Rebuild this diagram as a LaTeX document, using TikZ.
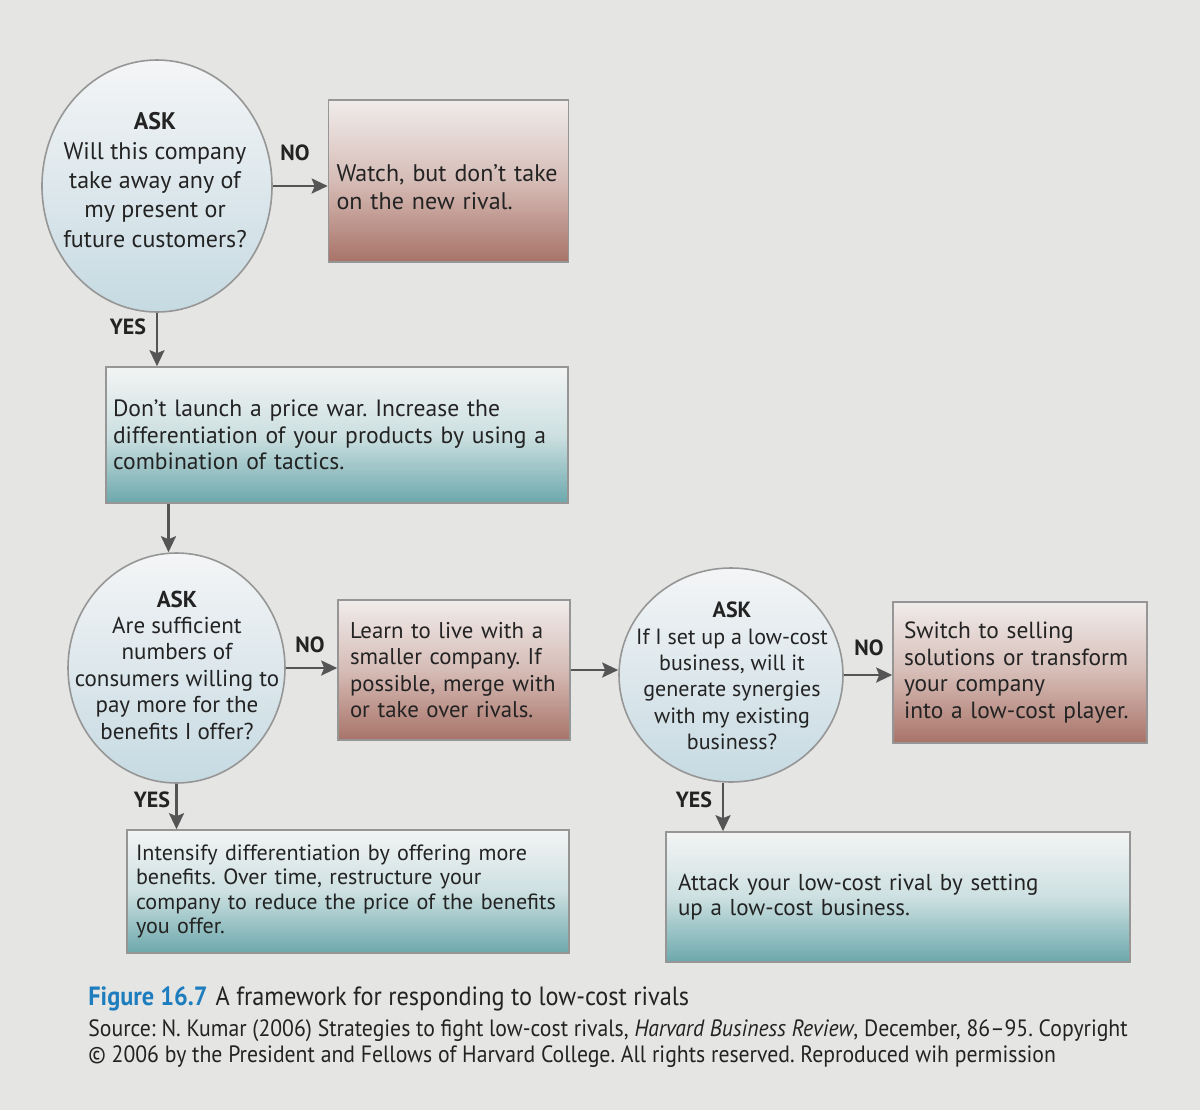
\documentclass[tikz,border=0pt]{standalone}
\usepackage{fontspec}
\setmainfont{PT Sans}
\newfontfamily\condfont[FakeStretch=0.92]{PT Sans}
\usetikzlibrary{shapes.geometric,arrows.meta}
\frenchspacing
\definecolor{page}{RGB}{229,229,227}
\definecolor{bordergray}{RGB}{150,150,150}
\definecolor{textc}{RGB}{35,35,35}
\definecolor{arrowc}{RGB}{85,85,85}
\definecolor{circtop}{RGB}{244,245,246}
\definecolor{circbot}{RGB}{198,218,226}
\definecolor{browntop}{RGB}{240,236,235}
\definecolor{brownmid}{RGB}{214,188,182}
\definecolor{brownbot}{RGB}{168,115,104}
\definecolor{tealtop}{RGB}{243,244,244}
\definecolor{tealmid}{RGB}{205,224,225}
\definecolor{tealbot}{RGB}{108,168,172}
\definecolor{figblue}{RGB}{30,125,190}
\tikzset{
  qcircle/.style={ellipse, draw=bordergray, line width=0.8pt, top color=circtop, bottom color=circbot, inner sep=0pt},
  qtext/.style={align=center, text=textc, font=\fontsize{11}{13.2}\selectfont, inner sep=0pt},
  brownbox/.style={rectangle, draw=bordergray, line width=0.8pt, top color=browntop, bottom color=brownbot, middle color=brownmid, align=left, inner xsep=5pt, text=textc, font=\fontsize{11}{13.3}\selectfont},
  tealbox/.style={rectangle, draw=bordergray, line width=0.8pt, top color=tealtop, bottom color=tealbot, middle color=tealmid, align=left, inner xsep=5pt, text=textc, font=\fontsize{11}{13.3}\selectfont},
  lbl/.style={font=\bfseries\fontsize{11}{13}\selectfont, text=textc, inner sep=0pt},
  arr/.style={draw=arrowc, line width=1.3pt, -{Stealth[width=7.5pt,length=8pt,inset=1.5pt]}}
}
\begin{document}
\begin{tikzpicture}[x=0.5pt,y=-0.5pt]
\fill[page] (0,0) rectangle (1200,1110);
\useasboundingbox (0,0) rectangle (1200,1110);

% question circles
\node[qcircle, minimum width=115pt, minimum height=126pt] (c1) at (157,186) {};
\node[qtext, font=\fontsize{12}{14.7}\selectfont] (c1t) at (155,180) {\textbf{ASK}\\Will this company\\take away any of\\my present or\\future customers?};
\node[qcircle, minimum width=108.5pt, minimum height=115pt] (c2) at (176.5,668) {};
\node[qtext, font=\fontsize{11.5}{13.2}\selectfont] (c2t) at (177,665) {\textbf{ASK}\\Are sufficient\\numbers of\\consumers willing to\\pay more for the\\benefits I offer?};
\node[qcircle, minimum width=112pt, minimum height=107pt] (c3) at (731,675) {};
\node[qtext] (c3t) at (732,676) {\textbf{ASK}\\If I set up a low-cost\\business, will it\\generate synergies\\with my existing\\business?};

% boxes
\node[brownbox, minimum width=118.5pt, minimum height=81pt, text width=112pt, inner xsep=4pt, font=\fontsize{12}{14}\selectfont] (b1) at (448.5,181) {\vphantom{Ag}\\[-8pt]Watch, but don’t take\\on the new rival.};
\node[tealbox, minimum width=231pt, minimum height=68pt, text width=224pt, inner xsep=3.5pt, font=\fontsize{11.8}{13.3}\selectfont] (b2) at (337,435) {Don’t launch a price war. Increase the\\differentiation of your products by using a\\combination of tactics.};
\node[brownbox, minimum width=114pt, minimum height=70pt, text width=104pt, inner xsep=6pt, font=\fontsize{11.4}{13.1}\selectfont] (b3) at (454,670) {Learn to live with a\\smaller company. If\\possible, merge with\\or take over rivals.};
\node[brownbox, minimum width=126pt, minimum height=70.5pt, text width=116pt, inner xsep=5.5pt, font=\fontsize{11.7}{13.3}\selectfont] (b4) at (1020,672.5) {Switch to selling\\solutions or transform\\your company\\into a low-cost player.};
\node[tealbox, minimum width=232pt, minimum height=65pt, text width=220pt, inner xsep=6pt, font=\fontsize{11.5}{12.4}\selectfont] (b5) at (898,897) {Attack your low-cost rival by setting\\up a low-cost business.};
\node[tealbox, minimum width=220pt, minimum height=61.5pt, text width=212pt, inner xsep=4.5pt, font=\fontsize{11.05}{12.2}\selectfont] (b6) at (348,891.5) {Intensify differentiation by offering more\\benefits. Over time, restructure your\\company to reduce the price of the benefits\\you offer.};

% connectors
\draw[arr] (c1.east) -- (b1.west |- c1.east);
\draw[arr] (c1.south) -- (c1.south |- b2.north);
\draw[arr] ([xshift=-4pt]c2.north |- b2.south) -- ([xshift=-4pt]c2.north);
\draw[arr] (c2.east) -- (b3.west |- c2.east);
\draw[arr] (b3.east) -- (b3.east -| c3.west);
\draw[arr] (c3.east) -- (b4.west |- c3.east);
\draw[arr] (c2.south) -- (c2.south |- b6.north);
\draw[arr] ([xshift=-4pt]c3.south) -- ([xshift=-4pt]c3.south |- b5.north);

% labels
\node[lbl] (no1) at (295,153) {NO};
\node[lbl] (yes1) at (128,327) {YES};
\node[lbl] (no2) at (310,645) {NO};
\node[lbl] (yes2) at (152,800) {YES};
\node[lbl] (no3) at (869,648) {NO};
\node[lbl] (yes3) at (694,800) {YES};

% caption
\node[anchor=base west, inner sep=0pt, text=textc, font=\condfont\fontsize{13.2}{16}\selectfont] (cap) at (88,1005) {{\color{figblue}\bfseries Figure 16.7}\hspace{4pt}A framework for responding to low-cost rivals};
\node[anchor=base west, inner sep=0pt, text=textc, font=\condfont\fontsize{11.8}{13}\selectfont] (src1) at (88,1036) {Source: N. Kumar (2006) Strategies to fight low-cost rivals, \textit{Harvard Business Review}, December, 86–95. Copyright};
\node[anchor=base west, inner sep=0pt, text=textc, font=\condfont\fontsize{11.8}{13}\selectfont] (src2) at (88,1062) {© 2006 by the President and Fellows of Harvard College. All rights reserved. Reproduced wih permission};
\end{tikzpicture}
\end{document}
